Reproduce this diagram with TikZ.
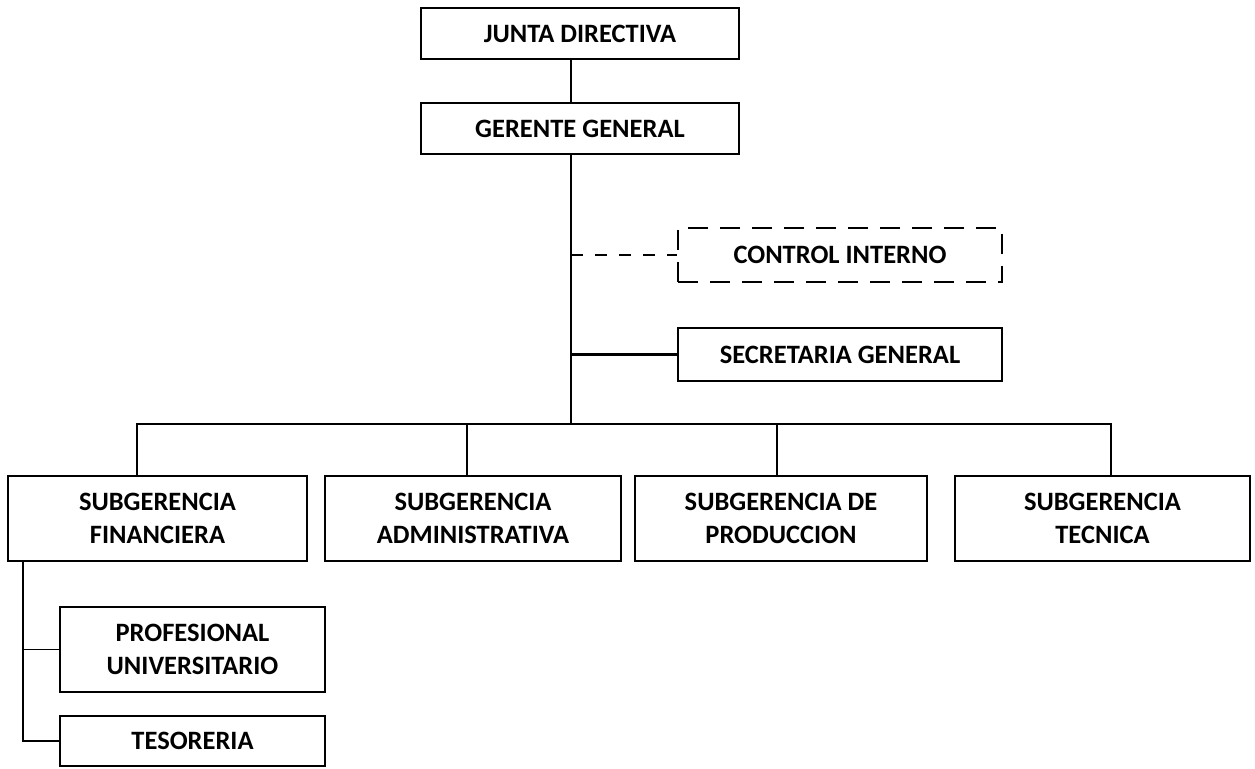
\documentclass[tikz,border=0pt]{standalone}
\usepackage{fontspec}
\setmainfont{Carlito}
\begin{document}
\begin{tikzpicture}[x=1pt,y=-1pt,
  orgbox/.style={draw, line width=2.6pt, inner sep=0pt, align=center,
    font=\bfseries\fontsize{26.5}{33}\selectfont},
  dashbox/.style={orgbox, dash pattern=on 20pt off 12pt},
  conn/.style={line width=2.8pt},
  thinconn/.style={line width=1.6pt},
  dashconn/.style={line width=1.6pt, dash pattern=on 12pt off 12pt}]
\useasboundingbox (0,0) rectangle (1255,768);
\node[orgbox, minimum width=318pt, minimum height=51pt] (junta) at (580,33.5) {JUNTA DIRECTIVA};
\node[orgbox, minimum width=318pt, minimum height=51pt] (gerente) at (580,128.5) {GERENTE GENERAL};
\node[dashbox, minimum width=324pt, minimum height=54pt] (control) at (840,255) {CONTROL INTERNO};
\node[orgbox, minimum width=324pt, minimum height=53pt] (secret) at (840,354.5) {SECRETARIA GENERAL};
\node[orgbox, minimum width=299pt, minimum height=85pt] (fin) at (157.5,518.5) {SUBGERENCIA\\FINANCIERA};
\node[orgbox, minimum width=296pt, minimum height=85pt] (adm) at (473,518.5) {SUBGERENCIA\\ADMINISTRATIVA};
\node[orgbox, minimum width=292pt, minimum height=85pt] (prod) at (781,518.5) {SUBGERENCIA DE\\PRODUCCION};
\node[orgbox, minimum width=295pt, minimum height=85pt] (tec) at (1102.5,518.5) {SUBGERENCIA\\TECNICA};
\node[orgbox, minimum width=265pt, minimum height=85pt] (prof) at (192.5,649.5) {PROFESIONAL\\UNIVERSITARIO};
\node[orgbox, minimum width=265pt, minimum height=50pt] (teso) at (192.5,741) {TESORERIA};
\coordinate (vx) at (571,0);
\coordinate (bus) at (571,424);
\coordinate (busL) at (137,424);
\coordinate (busA) at (467,424);
\coordinate (busP) at (777,424);
\coordinate (busR) at (1111,424);
\coordinate (lx) at (23,0);
\draw[conn] (vx |- junta.south) -- (vx |- gerente.north);
\draw[conn] (vx |- gerente.south) -- (bus);
\draw[dashconn] (vx |- control.west) -- (control.west);
\draw[conn] (vx |- secret.west) -- (secret.west);
\draw[conn] (busL |- fin.north) -- (busL) -- (busR) -- (busR |- tec.north);
\draw[conn] (busA) -- (busA |- adm.north);
\draw[conn] (busP) -- (busP |- prod.north);
\draw[thinconn] (lx |- fin.south) -- (lx |- teso.west) -- (teso.west);
\draw[thinconn] (lx |- prof.west) -- (prof.west);
\end{tikzpicture}
\end{document}
